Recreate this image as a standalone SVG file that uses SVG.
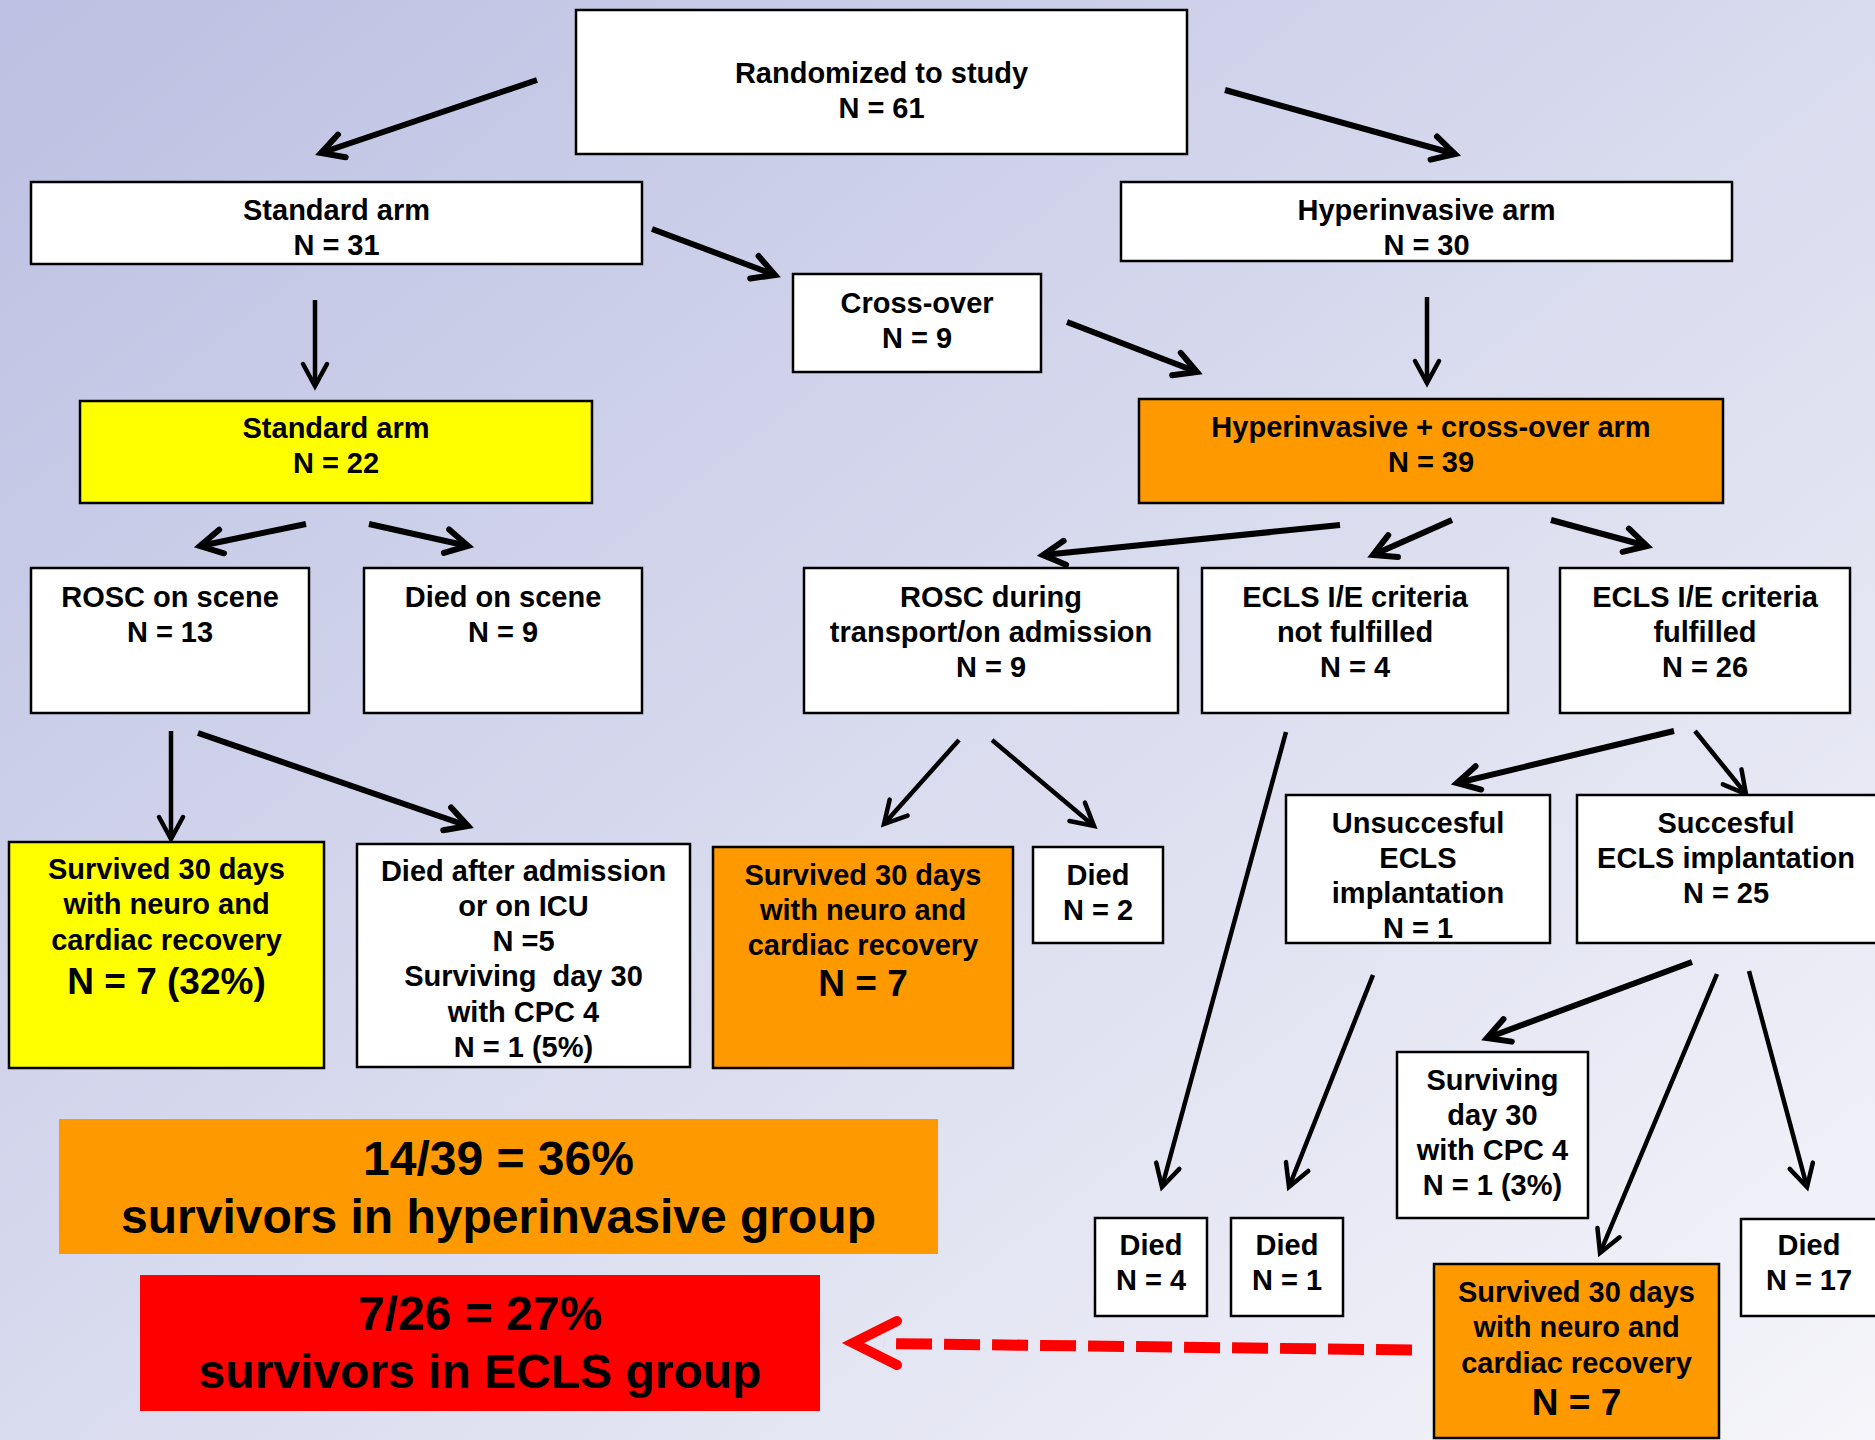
<svg xmlns="http://www.w3.org/2000/svg" width="1875" height="1440" viewBox="0 0 1875 1440">
<defs>
<linearGradient id="bg" x1="0" y1="0" x2="1" y2="1">
<stop offset="0" stop-color="#BCC0E2"/>
<stop offset="1" stop-color="#F5F5FA"/>
</linearGradient>
<marker id="ah" markerUnits="userSpaceOnUse" markerWidth="40" markerHeight="40" viewBox="0 0 40 40" refX="30" refY="20" orient="auto" overflow="visible">
<path d="M8,8 L30,20 L8,32" fill="none" stroke="#000" stroke-width="6" stroke-linecap="round" stroke-linejoin="miter" stroke-miterlimit="10"/>
</marker>
<marker id="ahs" markerUnits="userSpaceOnUse" markerWidth="40" markerHeight="40" viewBox="0 0 40 40" refX="30" refY="20" orient="auto" overflow="visible">
<path d="M8,8 L30,20 L8,32" fill="none" stroke="#000" stroke-width="4.5" stroke-linecap="round" stroke-linejoin="miter" stroke-miterlimit="10"/>
</marker>
<style>
.box{stroke:#000;stroke-width:2.5}
.w{fill:#fff}.y{fill:#ff0}.o{fill:#f90}.r{fill:#f00}
.t{font-family:"Liberation Sans",Arial,sans-serif;font-weight:bold;font-size:29px;text-anchor:middle;fill:#000}
.big{font-size:37px}
.sum{font-size:48px}
.arr{stroke:#000;stroke-width:6;fill:none;marker-end:url(#ah)}
.thin{stroke-width:4.5;marker-end:url(#ahs)}
</style>
</defs>
<rect x="0" y="0" width="1875" height="1440" fill="url(#bg)"/>

<g id="connectors">
<line class="arr" x1="537" y1="80" x2="321" y2="153"/>
<line class="arr" x1="1225" y1="90" x2="1455" y2="154"/>
<line class="arr" x1="652" y1="229" x2="775" y2="275"/>
<line class="arr thin" x1="315" y1="300" x2="315" y2="386"/>
<line class="arr" x1="1067" y1="322" x2="1197" y2="372"/>
<line class="arr thin" x1="1427" y1="297" x2="1427" y2="383"/>
<line class="arr" x1="306" y1="524" x2="200" y2="546"/>
<line class="arr" x1="369" y1="524" x2="468" y2="546"/>
<line class="arr" x1="1340" y1="525" x2="1043" y2="555"/>
<line class="arr" x1="1452" y1="520" x2="1373" y2="555"/>
<line class="arr" x1="1551" y1="520" x2="1647" y2="546"/>
<line class="arr thin" x1="171" y1="731" x2="171" y2="839"/>
<line class="arr" x1="198" y1="733" x2="468" y2="826"/>
<line class="arr thin" x1="959" y1="740" x2="884" y2="824"/>
<line class="arr thin" x1="992" y1="740" x2="1094" y2="826"/>
<line class="arr thin" x1="1286" y1="732" x2="1162" y2="1187"/>
<line class="arr" x1="1674" y1="731" x2="1457" y2="783"/>
<line class="arr thin" x1="1695" y1="731" x2="1746" y2="794"/>
<line class="arr thin" x1="1373" y1="975" x2="1289" y2="1187"/>
<line class="arr" x1="1692" y1="962" x2="1487" y2="1038"/>
<line class="arr thin" x1="1717" y1="974" x2="1600" y2="1253"/>
<line class="arr thin" x1="1749" y1="971" x2="1807" y2="1187"/>
<line x1="1412" y1="1350" x2="884" y2="1343.5" stroke="#f00" stroke-width="11" stroke-dasharray="36 12"/>
<path d="M897,1321 L853,1343 L897,1365" fill="none" stroke="#f00" stroke-width="10" stroke-linecap="round" stroke-linejoin="miter" stroke-miterlimit="10"/>
</g>

<g id="randomized"><rect class="box w" x="576" y="10" width="611" height="144"/>
<text class="t"><tspan x="881.5" y="83">Randomized to study</tspan><tspan x="881.5" y="118">N = 61</tspan></text></g>

<g id="standard-arm"><rect class="box w" x="31" y="182" width="611" height="82"/>
<text class="t"><tspan x="336.5" y="220">Standard arm</tspan><tspan x="336.5" y="255">N = 31</tspan></text></g>

<g id="hyper-arm"><rect class="box w" x="1121" y="182" width="611" height="79"/>
<text class="t"><tspan x="1426.5" y="220">Hyperinvasive arm</tspan><tspan x="1426.5" y="255">N = 30</tspan></text></g>

<g id="cross-over"><rect class="box w" x="793" y="274" width="248" height="98"/>
<text class="t"><tspan x="917" y="313">Cross-over</tspan><tspan x="917" y="348">N = 9</tspan></text></g>

<g id="standard-22"><rect class="box y" x="80" y="401" width="512" height="102"/>
<text class="t"><tspan x="336" y="438">Standard arm</tspan><tspan x="336" y="473">N = 22</tspan></text></g>

<g id="hyper-cross"><rect class="box o" x="1139" y="399" width="584" height="104"/>
<text class="t"><tspan x="1431" y="437">Hyperinvasive + cross-over arm</tspan><tspan x="1431" y="472">N = 39</tspan></text></g>

<g id="rosc-scene"><rect class="box w" x="31" y="568" width="278" height="145"/>
<text class="t"><tspan x="170" y="607">ROSC on scene</tspan><tspan x="170" y="642">N = 13</tspan></text></g>

<g id="died-scene"><rect class="box w" x="364" y="568" width="278" height="145"/>
<text class="t"><tspan x="503" y="607">Died on scene</tspan><tspan x="503" y="642">N = 9</tspan></text></g>

<g id="rosc-transport"><rect class="box w" x="804" y="568" width="374" height="145"/>
<text class="t"><tspan x="991" y="607">ROSC during</tspan><tspan x="991" y="642">transport/on admission</tspan><tspan x="991" y="677">N = 9</tspan></text></g>

<g id="ecls-not"><rect class="box w" x="1202" y="568" width="306" height="145"/>
<text class="t"><tspan x="1355" y="607">ECLS I/E criteria</tspan><tspan x="1355" y="642">not fulfilled</tspan><tspan x="1355" y="677">N = 4</tspan></text></g>

<g id="ecls-ful"><rect class="box w" x="1560" y="568" width="290" height="145"/>
<text class="t"><tspan x="1705" y="607">ECLS I/E criteria</tspan><tspan x="1705" y="642">fulfilled</tspan><tspan x="1705" y="677">N = 26</tspan></text></g>

<g id="survived-std"><rect class="box y" x="9" y="842" width="315" height="226"/>
<text class="t"><tspan x="166.5" y="879">Survived 30 days</tspan><tspan x="166.5" y="914">with neuro and</tspan><tspan x="166.5" y="950">cardiac recovery</tspan><tspan class="big" x="166.5" y="994">N = 7 (32%)</tspan></text></g>

<g id="died-admission"><rect class="box w" x="357" y="844" width="333" height="223"/>
<text class="t" style="white-space:pre"><tspan x="523.5" y="881">Died after admission</tspan><tspan x="523.5" y="916">or on ICU</tspan><tspan x="523.5" y="951">N =5</tspan><tspan x="523.5" y="986">Surviving  day 30</tspan><tspan x="523.5" y="1022">with CPC 4</tspan><tspan x="523.5" y="1057">N = 1 (5%)</tspan></text></g>

<g id="survived-transport"><rect class="box o" x="713" y="847" width="300" height="221"/>
<text class="t"><tspan x="863" y="885">Survived 30 days</tspan><tspan x="863" y="920">with neuro and</tspan><tspan x="863" y="955">cardiac recovery</tspan><tspan class="big" x="863" y="996">N = 7</tspan></text></g>

<g id="died-2"><rect class="box w" x="1033" y="847" width="130" height="96"/>
<text class="t"><tspan x="1098" y="885">Died</tspan><tspan x="1098" y="920">N = 2</tspan></text></g>

<g id="unsuccessful"><rect class="box w" x="1286" y="795" width="264" height="148"/>
<text class="t"><tspan x="1418" y="833">Unsuccesful</tspan><tspan x="1418" y="868">ECLS</tspan><tspan x="1418" y="903">implantation</tspan><tspan x="1418" y="938">N = 1</tspan></text></g>

<g id="successful"><rect class="box w" x="1577" y="795" width="305" height="148"/>
<text class="t"><tspan x="1726" y="833">Succesful</tspan><tspan x="1726" y="868">ECLS implantation</tspan><tspan x="1726" y="903">N = 25</tspan></text></g>

<g id="surviving-cpc4"><rect class="box w" x="1397" y="1052" width="191" height="166"/>
<text class="t"><tspan x="1492.5" y="1090">Surviving</tspan><tspan x="1492.5" y="1125">day 30</tspan><tspan x="1492.5" y="1160">with CPC 4</tspan><tspan x="1492.5" y="1195">N = 1 (3%)</tspan></text></g>

<g id="died-4"><rect class="box w" x="1095" y="1218" width="112" height="98"/>
<text class="t"><tspan x="1151" y="1255">Died</tspan><tspan x="1151" y="1290">N = 4</tspan></text></g>

<g id="died-1"><rect class="box w" x="1231" y="1218" width="112" height="98"/>
<text class="t"><tspan x="1287" y="1255">Died</tspan><tspan x="1287" y="1290">N = 1</tspan></text></g>

<g id="died-17"><rect class="box w" x="1741" y="1219" width="140" height="97"/>
<text class="t"><tspan x="1809" y="1255">Died</tspan><tspan x="1809" y="1290">N = 17</tspan></text></g>

<g id="survived-ecls"><rect class="box o" x="1434" y="1264" width="285" height="174"/>
<text class="t"><tspan x="1576.5" y="1302">Survived 30 days</tspan><tspan x="1576.5" y="1337">with neuro and</tspan><tspan x="1576.5" y="1373">cardiac recovery</tspan><tspan class="big" x="1576.5" y="1415">N = 7</tspan></text></g>

<g id="summary-hyper"><rect class="o" x="59" y="1119" width="879" height="135"/>
<text class="t sum"><tspan x="498.5" y="1175">14/39 = 36%</tspan><tspan x="498.5" y="1233">survivors in hyperinvasive group</tspan></text></g>

<g id="summary-ecls"><rect class="r" x="140" y="1275" width="680" height="136"/>
<text class="t sum"><tspan x="480" y="1330">7/26 = 27%</tspan><tspan x="480" y="1388">survivors in ECLS group</tspan></text></g>
</svg>
